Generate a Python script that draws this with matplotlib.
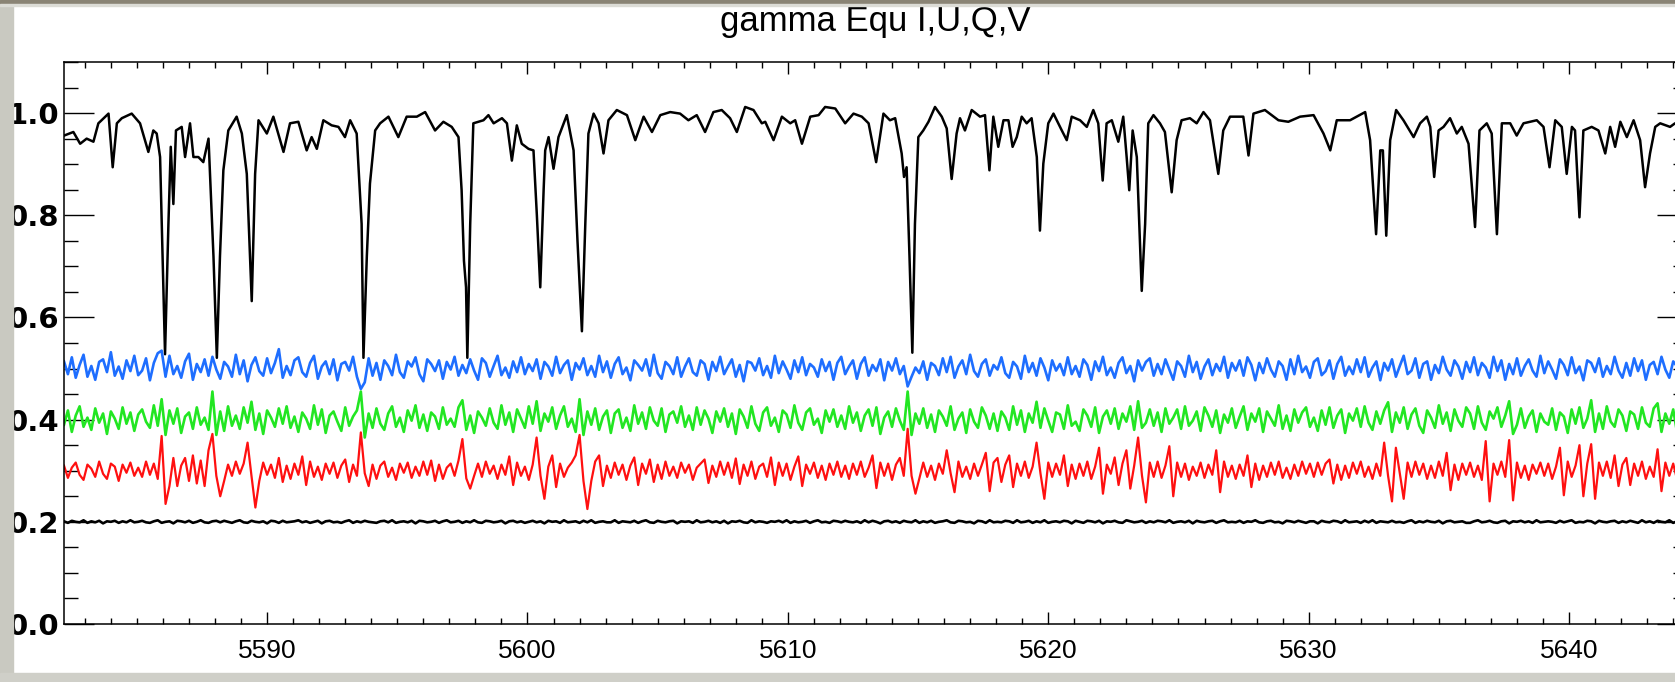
import numpy as np
import matplotlib
matplotlib.use("Agg")
import matplotlib.pyplot as plt
from matplotlib.ticker import MultipleLocator
from matplotlib.patches import Rectangle

plt.rcParams['font.family'] = ['Liberation Sans', 'DejaVu Sans']

title = "gamma Equ I,U,Q,V"
y_ticks = [0.0, 0.2, 0.4, 0.6, 0.8, 1.0]
y_labels = ["0.0", "0.2", "0.4", "0.6", "0.8", "1.0"]

# Stokes I, vertices (wavelength in A, normalised flux)
i_wave = [
    5582.05, 5582.56, 5582.82, 5583.07, 5583.33, 5583.52, 5583.91, 5584.07, 5584.23, 5584.42,
    5584.80, 5585.12, 5585.44, 5585.63, 5585.76, 5585.89, 5586.08, 5586.21, 5586.30, 5586.40,
    5586.50, 5586.72, 5586.85, 5587.04, 5587.17, 5587.36, 5587.55, 5587.75, 5587.94, 5588.07,
    5588.19, 5588.32, 5588.51, 5588.83, 5589.03, 5589.22, 5589.41, 5589.54, 5589.67, 5589.99,
    5590.24, 5590.63, 5590.88, 5591.20, 5591.52, 5591.71, 5591.91, 5592.16, 5592.48, 5592.74,
    5592.99, 5593.19, 5593.44, 5593.63, 5593.70, 5593.83, 5593.95, 5594.15, 5594.34, 5594.66,
    5595.04, 5595.36, 5595.75, 5596.07, 5596.45, 5596.77, 5597.09, 5597.35, 5597.47, 5597.56,
    5597.64, 5597.69, 5597.80, 5597.92, 5598.31, 5598.50, 5598.70, 5599.02, 5599.21, 5599.40,
    5599.59, 5599.78, 5600.04, 5600.23, 5600.36, 5600.49, 5600.62, 5600.68, 5600.81, 5601.00,
    5601.19, 5601.51, 5601.77, 5601.92, 5602.09, 5602.22, 5602.34, 5602.54, 5602.73, 5602.92,
    5603.11, 5603.43, 5603.82, 5604.14, 5604.46, 5604.78, 5605.10, 5605.48, 5605.86, 5606.18,
    5606.50, 5606.82, 5607.14, 5607.46, 5607.78, 5608.04, 5608.36, 5608.68, 5609.00, 5609.13,
    5609.45, 5609.77, 5610.09, 5610.28, 5610.54, 5610.86, 5611.18, 5611.43, 5611.82, 5612.20,
    5612.52, 5612.84, 5613.10, 5613.39, 5613.67, 5613.92, 5614.12, 5614.37, 5614.46, 5614.56,
    5614.67, 5614.78, 5614.88, 5615.01, 5615.20, 5615.40, 5615.65, 5615.91, 5616.10, 5616.29,
    5616.48, 5616.61, 5616.80, 5617.06, 5617.38, 5617.57, 5617.74, 5617.89, 5618.08, 5618.28,
    5618.47, 5618.63, 5618.79, 5618.98, 5619.17, 5619.36, 5619.56, 5619.68, 5619.81, 5620.00,
    5620.20, 5620.52, 5620.71, 5620.90, 5621.22, 5621.48, 5621.73, 5621.92, 5622.09, 5622.24,
    5622.44, 5622.69, 5622.88, 5623.01, 5623.11, 5623.24, 5623.40, 5623.59, 5623.72, 5623.84,
    5624.04, 5624.29, 5624.48, 5624.74, 5624.93, 5625.12, 5625.44, 5625.70, 5625.96, 5626.21,
    5626.53, 5626.72, 5626.98, 5627.30, 5627.49, 5627.69, 5627.88, 5628.32, 5628.84, 5629.22,
    5629.67, 5630.19, 5630.57, 5630.83, 5631.08, 5631.59, 5632.17, 5632.36, 5632.59, 5632.75,
    5632.85, 5632.98, 5633.13, 5633.36, 5633.64, 5634.03, 5634.28, 5634.54, 5634.67, 5634.82,
    5634.99, 5635.18, 5635.43, 5635.69, 5635.88, 5636.14, 5636.39, 5636.56, 5636.84, 5637.03,
    5637.23, 5637.42, 5637.74, 5637.99, 5638.25, 5638.51, 5638.76, 5639.02, 5639.25, 5639.47,
    5639.72, 5639.91, 5640.11, 5640.23, 5640.40, 5640.55, 5640.87, 5641.13, 5641.39, 5641.58,
    5641.77, 5641.97, 5642.22, 5642.48, 5642.73, 5642.92, 5643.11, 5643.31, 5643.50, 5643.88,
    5644.07, 5644.60]
i_flux = [
    .953, .963, .940, .950, .944, .980, .999, .894, .980, .990,
    .999, .980, .924, .966, .960, .914, .528, .783, .934, .822,
    .966, .973, .914, .980, .914, .914, .904, .950, .720, .521,
    .720, .888, .966, .993, .960, .881, .632, .881, .986, .960,
    .993, .924, .980, .983, .927, .953, .930, .986, .976, .973,
    .953, .986, .960, .783, .521, .720, .862, .966, .980, .993,
    .953, .993, .993, 1.002, .966, .983, .973, .953, .849, .711,
    .659, .521, .783, .980, .986, .996, .980, .990, .980, .907,
    .976, .940, .930, .927, .800, .659, .850, .927, .953, .891,
    .953, .996, .927, .750, .573, .783, .960, .999, .980, .921,
    .986, 1.006, .996, .947, .993, .963, .996, 1.002, .999, .986,
    .996, .963, 1.002, 1.006, .990, .963, 1.012, 1.006, .980, .983,
    .947, .993, .980, .986, .940, .993, .996, 1.012, 1.009, .980,
    .999, .993, .980, .904, .999, .986, .990, .921, .875, .894,
    .720, .531, .783, .953, .966, .983, 1.012, .993, .970, .871,
    .960, .990, .966, 1.006, .993, .996, .888, .993, .934, .986,
    .986, .934, .953, .993, .980, .990, .914, .770, .901, .980,
    .999, .966, .947, .993, .986, .973, 1.006, .980, .868, .980,
    .986, .944, .993, .914, .849, .966, .914, .652, .783, .980,
    .996, .980, .963, .845, .947, .986, .990, .980, 1.002, .986,
    .881, .966, .993, .993, .993, .917, .999, 1.006, .986, .983,
    .993, .996, .960, .927, .986, .986, 1.002, .947, .763, .927,
    .927, .760, .947, 1.006, .986, .953, .980, .993, .973, .875,
    .966, .973, .990, .960, .973, .940, .777, .966, .980, .960,
    .763, .980, .980, .956, .980, .983, .986, .973, .894, .986,
    .973, .881, .973, .966, .796, .966, .973, .966, .921, .973,
    .934, .983, .953, .986, .947, .855, .921, .973, .980, .973,
    .980, .975]

# the offset curves, sampled every 0.15 A from 5582.2 A, read as deviations in units of 0.001
grid_start = 5582.2
grid_step = 0.15

blue_level = 0.5
blue_dev = [
    14, -11, 22, -18, 7, 27, -16, 5, -22, 13, 18, -7, 32, -14, 4, -20, 16, -5, 25, -13,
    -4, 20, -23, 11, 30, 35, -16, 25, -11, 5, -18, 14, 29, -22, 9, -7, 18, -14, 23, -2,
    -20, 13, 4, -16, 27, -11, 16, -25, 7, 22, -5, -14, 20, -9, 11, 38, -18, 5, -13, 16,
    22, -7, -16, 11, 25, -20, 4, 14, -11, 18, -23, 9, 13, -4, 23, -16, -40, -27, 20, -14,
    11, -22, 16, 5, -13, 27, -7, -18, 14, 4, 22, -11, -25, 18, 9, -5, 16, -20, 13, -2,
    23, -14, 7, -9, 18, -4, -22, 20, 11, -16, 5, 25, -13, 2, -18, 14, -7, 22, -11, 9,
    -5, 18, -20, 13, 4, -14, 23, -9, 7, 16, -22, 11, -2, 20, -13, 5, -16, 25, -7, 14,
    -18, 9, 22, -11, 2, -23, 16, 7, -4, 18, -14, 27, -9, -20, 13, 5, -11, 22, -16, 4,
    20, -7, -14, 16, 9, -22, 13, -5, 23, -11, 4, 18, -16, 7, -25, 14, 11, -4, 20, -13,
    5, -18, 25, -9, 14, -2, -20, 16, -7, 22, -13, 9, 2, -16, 18, -5, 13, -22, 11, 23,
    -11, 4, 16, -20, 9, 22, -14, 7, -5, 18, -23, 13, -4, 20, -11, 5, -35, -16, 2, -9,
    14, -22, 11, 5, -13, 20, -7, 23, -18, 4, 16, -11, 27, -5, -16, 9, 18, -14, 7, -2,
    22, -9, -18, 13, 4, -20, 25, -7, 11, -14, 20, 2, -23, 16, -4, 9, -13, 22, -11, 5,
    -16, 18, 7, -22, 14, -5, 23, -13, 2, -18, 11, 22, -9, 5, -25, 16, -4, 13, 20, -14,
    9, -11, 18, -2, -22, 14, 5, -16, 25, -7, 13, -20, 4, 18, -13, 9, -5, 23, -18, 11,
    -4, 16, -14, 22, 7, -23, 11, -9, 20, -2, -16, 14, 5, -22, 18, -11, 25, -7, 4, -18,
    13, 20, -13, -5, 16, -20, 9, 23, -14, 4, -11, 18, -7, 22, -16, 2, 14, -23, 11, -4,
    18, -16, 5, 25, -11, -4, 20, -18, 9, 14, -22, 7, -9, 23, -2, -14, 16, 4, -20, 13,
    -7, 22, -13, 11, 2, -18, 23, -5, 16, -22, 9, -11, 20, -14, 5, 18, -4, -16, 25, -9,
    14, -2, -20, 18, 7, -13, 22, -9, 4, -23, 16, 11, -7, 20, -16, 5, -11, 23, -4, -18,
    11, -14, 20, -5, 16, -22, 7, 13, -11, 23, -2, -18, 14, 4, -9, 18]

green_level = 0.4
green_dev = [
    -10, 18, -24, 8, 26, -14, 4, -20, 22, -6, 12, -28, 16, 2, -18, 24, -8, 14, -22, 10,
    20, -4, -16, 28, -12, 40, -30, 18, -8, 22, -26, 6, 14, -18, 24, -10, 4, -20, 55, -30,
    16, -22, 26, -12, 8, -18, 24, -6, 35, -20, 12, -28, 18, 4, -14, 22, -8, 26, -16, 6,
    -24, 14, 2, -18, 28, -10, 20, -26, 8, 16, -4, -22, 24, -12, 6, 18, 55, -35, 12, -16,
    22, -8, -20, 12, 26, -14, 4, -24, 18, -2, 28, -16, 10, -22, 14, 6, -18, 24, -10, 2,
    -14, 24, 38, -20, 8, -26, 16, 4, -12, 22, -6, -18, 28, -10, 14, -24, 20, 2, -16, 26,
    -8, 36, -22, 12, -4, 24, -18, 8, 26, -14, 2, -24, 40, -30, 16, -10, 22, -20, 6, 18,
    -26, 12, 20, -16, 4, -22, 28, -8, 14, -18, 24, -2, -12, 22, -24, 10, 16, -6, 26, -14,
    8, -20, 24, -10, 18, 2, -26, 16, -4, 22, -14, 12, -28, 20, 6, -16, 26, -8, -22, 14,
    24, -12, 4, -24, 18, 10, -16, 28, -6, -20, 14, 22, -10, 2, -26, 18, -4, 20, -14, 8,
    -18, 26, -6, 14, -22, 8, 20, -12, 24, -28, 4, 16, -14, 22, -2, -20, 55, -30, 12, -8,
    22, -16, 10, -24, 18, 6, -12, 26, -20, 2, 14, -26, 20, -4, -16, 24, 8, -18, 12, -22,
    16, 4, -20, 26, -10, 18, -24, 12, -6, 35, -16, 22, -2, -24, 14, 10, -18, 28, -12, -4,
    -22, 20, 8, -14, 24, -26, 6, 18, -8, 22, -18, 12, -4, 26, -20, 36, -16, -6, 20, -12,
    14, -24, 22, -8, 4, 20, -18, 26, -12, -2, 16, -22, 24, 8, -14, 18, -26, 10, -6, 22,
    -16, 6, 26, -20, 12, -4, 22, -24, 16, 2, -12, 28, -18, 8, -22, 20, -6, 14, 24, -14,
    4, -22, 18, -10, 24, -16, 8, 20, -26, 12, -2, 22, -14, 26, -6, -20, 16, -8, 18, 34,
    -24, 14, -6, 24, -18, 10, 22, -12, -26, 18, 4, -16, 28, -8, 14, -22, 20, -2, -14, 24,
    12, -18, 26, -6, -20, 16, 2, 24, -14, 8, 36, -28, -10, 22, -16, 6, 18, -24, 12, -4,
    -10, 22, -20, 14, 6, -26, 20, -8, 24, -16, 2, 38, -24, 12, -18, 26, -4, -14, 20, 8,
    -22, 16, 10, -18, 24, -6, -14, 22, 32, -24, 12, -8, 20, -26, 14, 4]

red_level = 0.3
red_dev = [
    10, -14, 6, 16, -8, -18, 12, 4, -12, 18, -6, -16, 14, 8, -20, 12, -4, 16, -10, 6,
    -12, 18, -8, 14, -16, 68, -65, -30, 25, -30, 10, 25, -20, 30, -25, 20, -30, 40, 72, -10,
    -50, -20, 12, -10, 18, -6, 14, 55, -10, -72, -20, 16, -8, 12, -14, 25, -22, 10, -16, 14,
    -8, 28, -28, 18, -12, 8, -18, 14, -6, 16, -14, 10, 22, -22, 12, -10, 75, -5, -30, 12,
    -16, 10, 18, -12, 6, -18, 14, -4, 16, -14, 8, -10, 18, -8, 20, -20, 12, -16, 6, 14,
    -10, 20, 62, -15, -35, -10, 14, -12, 18, -6, 10, -16, 12, -8, 28, -28, 16, -10, 8, -18,
    12, 65, -10, -55, 8, 30, -32, 14, -12, 6, 16, 30, 70, -20, -75, -20, 18, 30, -30, 10,
    -14, 16, -8, 12, -18, 10, 26, -28, 14, -6, 22, -22, 12, -16, 18, -10, 8, -14, 16, -4,
    12, -18, 6, 14, 22, -24, 10, -12, 18, -8, 16, -14, 24, -26, 12, -10, 18, -16, 8, 14,
    -12, 26, -28, 16, -10, 14, -18, 8, 28, -30, 12, -6, 16, -14, 10, -18, 14, -8, 18, -12,
    10, -16, 14, -8, 18, -12, 6, 30, -34, 16, -10, 14, -18, 12, 25, -10, 82, -10, -45, -15,
    16, -12, 10, -18, 14, -6, 40, -5, -42, 18, -12, 8, -16, 14, -10, 12, 35, -40, 16, 25,
    -22, 12, 30, -32, 14, -10, 18, -14, 8, 55, -5, -55, 16, -12, 14, -8, 30, -30, 12, -16,
    14, -10, 18, -16, 8, 45, -45, 12, -6, 26, -28, 14, 40, -35, 10, 65, -10, -62, 16, -12,
    18, -14, 10, 48, -50, 16, -12, 14, -18, 8, -10, 16, -14, 12, -8, 40, -42, 18, -12, 10,
    -16, 12, -10, 30, -32, 14, -18, 10, -12, 16, -8, 18, -14, 6, -16, 12, -10, 18, -6, 14,
    -12, 16, -8, 14, 22, -25, 12, -18, 10, -14, 16, -6, 18, -12, 8, -16, 14, -10, 55, -10,
    -60, 45, -5, -55, 16, -12, 18, -8, 14, -16, 10, -14, 18, -10, 35, -38, 12, -18, 14, -8,
    16, -12, 10, -18, 58, -60, 14, -8, 18, -12, 60, -58, 16, -14, 10, -18, 12, -6, 16, -10,
    14, -16, 8, 45, -48, 18, -12, 10, 50, -50, 14, 52, -55, 16, -10, 18, -14, 30, -30, 12,
    25, -28, 14, -10, 18, -16, 8, -12, 42, -40, 16, -10, 14, -18, 12, -8]

black_level = 0.2
black_dev = [
    1, -2, 2, 0, -1, 3, -2, 1, -1, 2, -3, 1, 0, 2, -2, 1, -1, 3, -1, 0,
    2, -1, -2, 1, 3, -2, 0, 1, -3, 2, 1, -1, 2, -2, 0, 3, -1, -2, 1, 2,
    -1, 2, 0, -2, 1, 3, -1, -2, 2, 0, -1, 1, -3, 2, 1, -2, 2, -1, 0, 1,
    3, -1, 1, -2, 0, 2, -3, 1, 2, -1, 0, -2, 1, 3, -2, 1, -1, 2, 0, -1,
    -2, 1, 2, -1, 3, -2, 0, 1, -1, 2, -3, 2, 1, -1, 0, 2, -2, 1, 3, -1,
    0, 2, -2, 1, -1, 3, -1, -2, 2, 1, -1, 0, 2, -3, 1, 2, -1, 1, -2, 0,
    2, -1, 1, -3, 2, 0, 1, -2, 3, -1, 0, 1, -2, 2, -1, 3, -2, 0, 1, -1,
    -1, 3, -2, 1, 0, -1, 2, -2, 1, 3, -1, -2, 2, 0, -1, 1, 2, -3, 1, 0,
    1, -2, 3, -1, 0, 2, -1, 1, -2, 2, -3, 1, 0, 2, -1, -2, 3, -1, 1, 0,
    -2, 1, 0, 2, -1, 3, -2, 1, -1, 0, 2, -2, 1, 3, -1, 0, -2, 2, 1, -1,
    2, 0, -1, 1, -2, 3, -1, 2, 0, -3, 1, 2, -1, 1, -2, 2, 0, -1, 3, -2,
    1, -1, 2, -2, 0, 1, 3, -1, -2, 2, 1, -1, 0, -3, 2, 1, -2, 3, -1, 0,
    -1, 2, 1, -2, 3, -1, 0, 2, -2, 1, -1, 3, -2, 0, 1, -1, 2, 1, -3, 2,
    0, -2, 2, 1, -1, 2, -3, 1, 0, 2, -1, -2, 3, 1, -1, 0, 2, -2, 1, -1,
    2, 1, -1, 3, -2, 0, 1, -1, 2, -3, 2, 0, -1, 1, 2, -2, 1, 3, -1, 0,
    -1, 2, -2, 1, 0, 3, -1, -2, 1, 2, -1, 0, -3, 2, 1, -1, 2, 0, -2, 1,
    1, -3, 2, 0, -1, 2, 1, -2, 3, -1, 0, 1, -2, 2, -1, 3, -2, 1, 0, -1,
    2, -1, 0, -2, 1, 3, -2, 1, -1, 2, 0, -1, 2, -3, 1, 2, -1, 0, 1, -2,
    -2, 1, 3, -1, 0, 2, -1, -2, 1, 2, -3, 1, 0, 2, -1, 1, -2, 3, -1, 0,
    1, 0, -2, 2, -1, 1, 3, -2, 0, -1, 2, 1, -3, 2, 0, -1, 1, 2, -2, 1,
    -1, 2, 0, -2, 3, -1, 1, -2, 2, 0, -1, 3, -2, 1, 0, 2]

fig = plt.figure(figsize=(16.75, 6.82), dpi=100)
ax = fig.add_axes([64 / 1675, 58 / 682, 1623 / 1675, 562 / 682])

ax.plot(i_wave, i_flux, color="black", lw=1.8)

curves = [(blue_dev, blue_level, "#1e6eff", 1.9),
          (green_dev, green_level, "#22e622", 1.9),
          (red_dev, red_level, "#ff1010", 1.6),
          (black_dev, black_level, "black", 1.9)]
for dev, level, col, lw in curves:
    wave = grid_start + grid_step * np.arange(len(dev))
    ax.plot(wave, level + np.array(dev) / 1000.0, color=col, lw=lw)

ax.xaxis.set_major_locator(MultipleLocator(10))
ax.xaxis.set_minor_locator(MultipleLocator(1))
ax.set_yticks(y_ticks, labels=y_labels, fontsize=21, fontweight="bold",
              family="DejaVu Sans")
ax.yaxis.set_minor_locator(MultipleLocator(0.05))
ax.set_xlim(5582.2, 5644.53)
ax.set_ylim(0.0, 1.1)

ax.tick_params(axis="both", which="both", direction="in", top=True, right=True, width=1.0)
ax.tick_params(axis="x", which="major", length=8.5, pad=11, labelsize=19)
ax.tick_params(axis="x", which="minor", length=4)
ax.tick_params(axis="y", which="major", length=21.5, pad=3.5)
ax.tick_params(axis="y", which="minor", length=10)
for s in ax.spines.values():
    s.set_linewidth(1.1)

ax.set_title(title, fontsize=25, pad=22)

# grey window frame of the screenshot
fig.add_artist(Rectangle((0, 0), 13 / 1675, 1, transform=fig.transFigure,
                         color="#c9c9c1", zorder=10))
fig.add_artist(Rectangle((0, 0), 1, 9 / 682, transform=fig.transFigure,
                         color="#cfcfc8", zorder=10))
fig.add_artist(Rectangle((0, 1 - 4 / 682), 1, 4 / 682, transform=fig.transFigure,
                         color="#8a8475", zorder=10))
fig.add_artist(Rectangle((0, 1 - 6 / 682), 1, 2 / 682, transform=fig.transFigure,
                         color="#dcdcd6", zorder=10))

fig.savefig("out.png", dpi=100)
